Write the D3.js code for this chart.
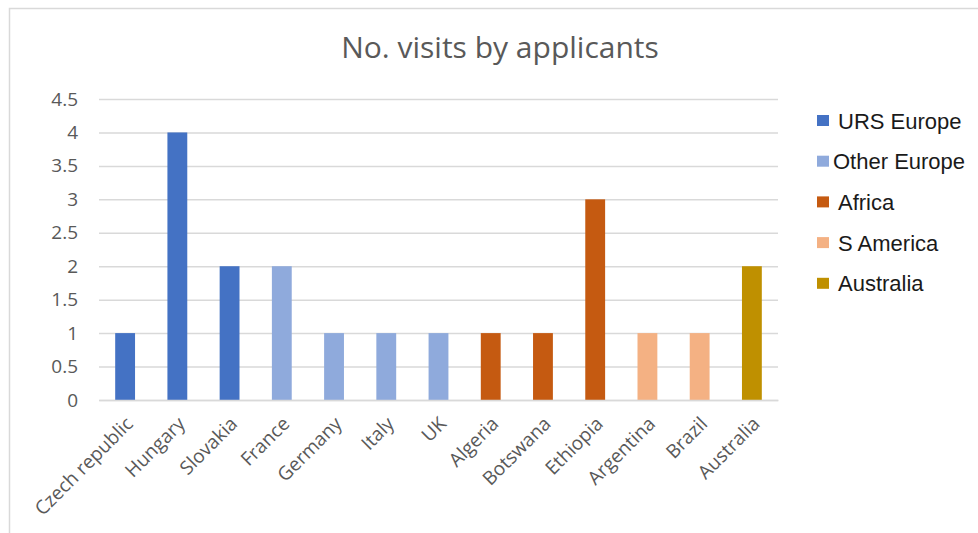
<!DOCTYPE html>
<html>
<head>
<meta charset="utf-8">
<script src="https://cdn.jsdelivr.net/npm/d3@7"></script>
<style>
  body { margin: 0; background: #fff; }
  svg { display: block; }
  .grid line { stroke: #d9d9d9; stroke-width: 1.5; }
  .axis text { fill: #595959; font-family: "Open Sans", sans-serif; font-size: 19px; }
</style>
</head>
<body>
<div id="box-div"></div>
<script>
// data
const countries = ['Czech republic', 'Hungary', 'Slovakia', 'France', 'Germany', 'Italy', 'UK',
    'Algeria', 'Botswana', 'Ethiopia', 'Argentina', 'Brazil', 'Australia'];
const visits = [1, 4, 2, 2, 1, 1, 1, 1, 1, 3, 1, 1, 2];
const regionOf = ['URS Europe', 'URS Europe', 'URS Europe', 'Other Europe', 'Other Europe', 'Other Europe', 'Other Europe',
    'Africa', 'Africa', 'Africa', 'S America', 'S America', 'Australia'];
const regions = ['URS Europe', 'Other Europe', 'Africa', 'S America', 'Australia'];
const regionColors = ['#4472c4', '#8faadc', '#c55a11', '#f4b183', '#bf9000'];
const yTicks = [0, 0.5, 1, 1.5, 2, 2.5, 3, 3.5, 4, 4.5];

const dms = {
    width: 978,
    height: 533,
    margin: { top: 99, right: 200, bottom: 133, left: 99 }
};
dms.contentWidth = dms.width - dms.margin.left - dms.margin.right;
dms.contentHeight = dms.height - dms.margin.top - dms.margin.bottom;

const box = d3.select('#box-div').append('svg')
    .attr('width', dms.width)
    .attr('height', dms.height);

// chart frame
box.append('rect')
    .attr('x', 9.5).attr('y', 8.5)
    .attr('width', dms.width).attr('height', dms.height)
    .attr('fill', 'none').attr('stroke', '#d9d9d9').attr('stroke-width', 1.5);

box.append('text')
    .attr('x', 500).attr('y', 58)
    .attr('text-anchor', 'middle')
    .attr('fill', '#595959')
    .style('font-family', '"Open Sans", sans-serif')
    .style('font-size', '30px')
    .text('No. visits by applicants');

const content = box.append('g')
    .attr('transform', `translate(${dms.margin.left},${dms.margin.top})`);

const x = d3.scaleBand()
    .domain(countries)
    .range([0, dms.contentWidth])
    .paddingInner(0.62)
    .paddingOuter(0.31);

const y = d3.scaleLinear()
    .domain([0, 4.5])
    .range([dms.contentHeight, 0]);

const color = d3.scaleOrdinal().domain(regions).range(regionColors);

// gridlines
content.append('g')
    .attr('class', 'grid')
    .call(d3.axisLeft(y).tickValues(yTicks).tickSize(-dms.contentWidth).tickFormat(''))
    .call(g => g.select('.domain').remove());

// y labels
content.append('g')
    .attr('class', 'axis')
    .call(d3.axisLeft(y).tickValues(yTicks).tickSize(0).tickPadding(21).tickFormat(d3.format('')))
    .call(g => g.select('.domain').remove());

// bars
content.append('g')
    .selectAll('rect')
    .data(countries)
    .join('rect')
    .attr('x', d => x(d))
    .attr('width', x.bandwidth())
    .attr('y', (d, i) => y(visits[i]))
    .attr('height', (d, i) => y(0) - y(visits[i]))
    .attr('fill', (d, i) => color(regionOf[i]));

// x axis
const xAxis = content.append('g')
    .attr('class', 'axis')
    .attr('transform', `translate(0,${dms.contentHeight})`)
    .call(d3.axisBottom(x).tickSize(0).tickPadding(0));
xAxis.select('.domain').attr('stroke', '#d9d9d9').attr('stroke-width', 1.5);
xAxis.selectAll('text')
    .attr('text-anchor', 'end')
    .attr('dy', 0)
    .attr('x', 0).attr('y', 0)
    .attr('transform', 'translate(9,25) rotate(-45)');

// legend
const legend = box.append('g')
    .attr('transform', 'translate(817,121)');
const item = legend.selectAll('g')
    .data(regions)
    .join('g')
    .attr('transform', (d, i) => `translate(0,${i * 40.7})`);
item.append('rect')
    .attr('x', 0).attr('y', -6)
    .attr('width', 12).attr('height', 11)
    .attr('fill', d => color(d));
item.append('text')
    .attr('x', (d, i) => i === 1 ? 16 : 21)
    .attr('y', 7.5)
    .attr('fill', '#1a1a1a')
    .style('font-family', '"Liberation Sans", Arial, sans-serif')
    .style('font-size', '22px')
    .text(d => d);
</script>
</body>
</html>
